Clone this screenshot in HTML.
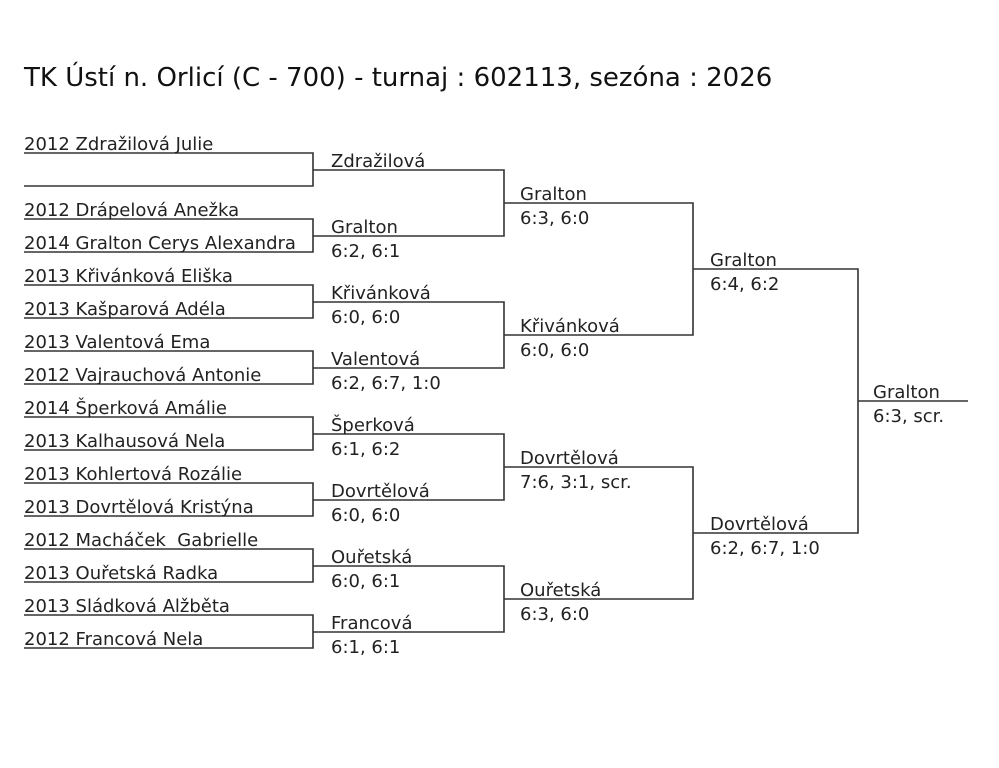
<!DOCTYPE html>
<html><head><meta charset="utf-8"><style>
body{margin:0;background:#fff;}
#c{position:relative;width:999px;height:768px;overflow:hidden;font-family:"DejaVu Sans","Liberation Sans",sans-serif;color:#222;}
.t{position:absolute;font-size:18px;line-height:20px;margin-top:1px;white-space:pre;}
.s{margin-top:0;}
h1{position:absolute;left:24px;top:61px;margin:0;font-weight:normal;font-size:26px;line-height:34px;white-space:nowrap;color:#111;}
svg{position:absolute;left:0;top:0;}
</style></head><body><div id="c">
<h1>TK Ústí n. Orlicí (C - 700) - turnaj : 602113, sezóna : 2026</h1>
<svg width="999" height="768" fill="none" stroke="#333" stroke-width="1.6">
<path d="M24 153H313V186H24 M24 219H313V252H24 M24 285H313V318H24 M24 351H313V384H24 M24 417H313V450H24 M24 483H313V516H24 M24 549H313V582H24 M24 615H313V648H24"/>
<path d="M313 170H504V236H313 M313 302H504V368H313 M313 434H504V500H313 M313 566H504V632H313"/>
<path d="M504 203H693V335H504 M504 467H693V599H504"/>
<path d="M693 269H858V533H693"/>
<path d="M858 401H968"/>
</svg>
<div class="t" style="left:24px;top:134px">2012 Zdražilová Julie</div>
<div class="t" style="left:24px;top:200px">2012 Drápelová Anežka</div>
<div class="t" style="left:24px;top:233px">2014 Gralton Cerys Alexandra</div>
<div class="t" style="left:24px;top:266px">2013 Křivánková Eliška</div>
<div class="t" style="left:24px;top:299px">2013 Kašparová Adéla</div>
<div class="t" style="left:24px;top:332px">2013 Valentová Ema</div>
<div class="t" style="left:24px;top:365px">2012 Vajrauchová Antonie</div>
<div class="t" style="left:24px;top:398px">2014 Šperková Amálie</div>
<div class="t" style="left:24px;top:431px">2013 Kalhausová Nela</div>
<div class="t" style="left:24px;top:464px">2013 Kohlertová Rozálie</div>
<div class="t" style="left:24px;top:497px">2013 Dovrtělová Kristýna</div>
<div class="t" style="left:24px;top:530px">2012 Macháček  Gabrielle</div>
<div class="t" style="left:24px;top:563px">2013 Ouřetská Radka</div>
<div class="t" style="left:24px;top:596px">2013 Sládková Alžběta</div>
<div class="t" style="left:24px;top:629px">2012 Francová Nela</div>

<div class="t" style="left:331px;top:151px">Zdražilová</div>
<div class="t" style="left:331px;top:217px">Gralton</div><div class="t s" style="left:331px;top:242px">6:2, 6:1</div>
<div class="t" style="left:331px;top:283px">Křivánková</div><div class="t s" style="left:331px;top:308px">6:0, 6:0</div>
<div class="t" style="left:331px;top:349px">Valentová</div><div class="t s" style="left:331px;top:374px">6:2, 6:7, 1:0</div>
<div class="t" style="left:331px;top:415px">Šperková</div><div class="t s" style="left:331px;top:440px">6:1, 6:2</div>
<div class="t" style="left:331px;top:481px">Dovrtělová</div><div class="t s" style="left:331px;top:506px">6:0, 6:0</div>
<div class="t" style="left:331px;top:547px">Ouřetská</div><div class="t s" style="left:331px;top:572px">6:0, 6:1</div>
<div class="t" style="left:331px;top:613px">Francová</div><div class="t s" style="left:331px;top:638px">6:1, 6:1</div>

<div class="t" style="left:520px;top:184px">Gralton</div><div class="t s" style="left:520px;top:209px">6:3, 6:0</div>
<div class="t" style="left:520px;top:316px">Křivánková</div><div class="t s" style="left:520px;top:341px">6:0, 6:0</div>
<div class="t" style="left:520px;top:448px">Dovrtělová</div><div class="t s" style="left:520px;top:473px">7:6, 3:1, scr.</div>
<div class="t" style="left:520px;top:580px">Ouřetská</div><div class="t s" style="left:520px;top:605px">6:3, 6:0</div>

<div class="t" style="left:710px;top:250px">Gralton</div><div class="t s" style="left:710px;top:275px">6:4, 6:2</div>
<div class="t" style="left:710px;top:514px">Dovrtělová</div><div class="t s" style="left:710px;top:539px">6:2, 6:7, 1:0</div>

<div class="t" style="left:873px;top:382px">Gralton</div><div class="t s" style="left:873px;top:407px">6:3, scr.</div>
</div></body></html>
